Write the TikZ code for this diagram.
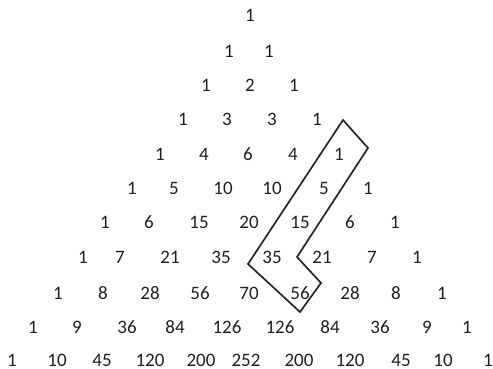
\documentclass[tikz,border=0pt]{standalone}
\usepackage{fontspec}
\setmainfont{Carlito}
\begin{document}
\begin{tikzpicture}[x=1pt,y=-1pt,
  num/.style={font=\fontsize{19}{19}\selectfont, text=black!88, inner sep=0pt, anchor=center},
  frame/.style={draw=black!85, line width=1.7pt, line join=miter}]
\useasboundingbox (0,0) rectangle (493,369);
% row 0
\node[num] (r0a) at (250,15) {1};
% row 1
\node[num] (r1a) at (229,51) {1};
\node[num] (r1b) at (269,51) {1};
% row 2
\node[num] (r2a) at (206,85) {1};
\node[num] (r2b) at (250,85) {2};
\node[num] (r2c) at (294,85) {1};
% row 3
\node[num] (r3a) at (183,119) {1};
\node[num] (r3b) at (227,119) {3};
\node[num] (r3c) at (272,119) {3};
\node[num] (r3d) at (317,119) {1};
% row 4
\node[num] (r4a) at (160,154) {1};
\node[num] (r4b) at (204,154) {4};
\node[num] (r4c) at (248,154) {6};
\node[num] (r4d) at (293,154) {4};
\node[num] (r4e) at (339,154) {1};
% row 5
\node[num] (r5a) at (132,188) {1};
\node[num] (r5b) at (174,188) {5};
\node[num] (r5c) at (223,188) {10};
\node[num] (r5d) at (272,188) {10};
\node[num] (r5e) at (324,188) {5};
\node[num] (r5f) at (368,188) {1};
% row 6
\node[num] (r6a) at (105,222) {1};
\node[num] (r6b) at (149,222) {6};
\node[num] (r6c) at (199,222) {15};
\node[num] (r6d) at (249,222) {20};
\node[num] (r6e) at (300,222) {15};
\node[num] (r6f) at (350,222) {6};
\node[num] (r6g) at (395,222) {1};
% row 7
\node[num] (r7a) at (83,257) {1};
\node[num] (r7b) at (120,257) {7};
\node[num] (r7c) at (170,257) {21};
\node[num] (r7d) at (221,257) {35};
\node[num] (r7e) at (272,257) {35};
\node[num] (r7f) at (322,257) {21};
\node[num] (r7g) at (372,257) {7};
\node[num] (r7h) at (417,257) {1};
% row 8
\node[num] (r8a) at (58,293) {1};
\node[num] (r8b) at (103,293) {8};
\node[num] (r8c) at (150,293) {28};
\node[num] (r8d) at (200,293) {56};
\node[num] (r8e) at (249,293) {70};
\node[num] (r8f) at (300,293) {56};
\node[num] (r8g) at (350,293) {28};
\node[num] (r8h) at (396,293) {8};
\node[num] (r8i) at (442,293) {1};
% row 9
\node[num] (r9a) at (33,327) {1};
\node[num] (r9b) at (77,327) {9};
\node[num] (r9c) at (127,327) {36};
\node[num] (r9d) at (175,327) {84};
\node[num] (r9e) at (227,327) {126};
\node[num] (r9f) at (280,327) {126};
\node[num] (r9g) at (330,327) {84};
\node[num] (r9h) at (380,327) {36};
\node[num] (r9i) at (427,327) {9};
\node[num] (r9j) at (467,327) {1};
% row 10
\node[num] (r10a) at (12,360) {1};
\node[num] (r10b) at (57,360) {10};
\node[num] (r10c) at (102,360) {45};
\node[num] (r10d) at (150,360) {120};
\node[num] (r10e) at (201,360) {200};
\node[num] (r10f) at (246,360) {252};
\node[num] (r10g) at (299,360) {200};
\node[num] (r10h) at (350,360) {120};
\node[num] (r10i) at (401,360) {45};
\node[num] (r10j) at (443,360) {10};
\node[num] (r10k) at (488,360) {1};
% outline around the hockey stick
\draw[frame] (343,120) -- (368,148) -- (297,257) -- (321,283) -- (300,312) -- (248,264) -- cycle;
\end{tikzpicture}
\end{document}
